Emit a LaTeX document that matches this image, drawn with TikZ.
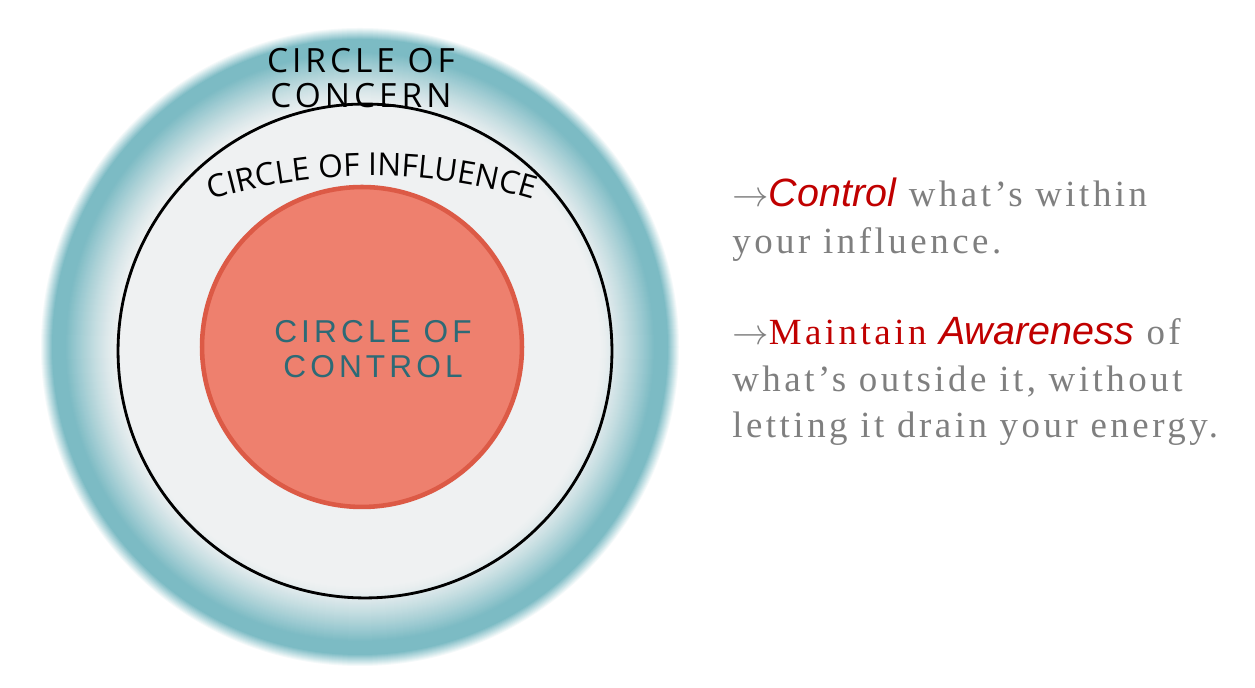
\documentclass[tikz,border=0pt]{standalone}
\usepackage{fontspec}
\setmainfont{Liberation Serif}
\newfontfamily\notefont[LetterSpace=9.5]{Liberation Serif}
\newfontfamily\keyfont[Scale=1.07]{Liberation Sans}
\newfontfamily\concernfont[LetterSpace=12]{Open Sans}
\newfontfamily\influencefont{Open Sans}
\newfontfamily\controlfont[LetterSpace=13]{Liberation Sans}
\usetikzlibrary{decorations.text,calc}

\definecolor{concernteal}{HTML}{7CBBC4}
\definecolor{concerngray}{HTML}{EFF1F2}
\definecolor{controlfill}{HTML}{EE806E}
\definecolor{controledge}{HTML}{DC5A46}
\definecolor{controltext}{HTML}{2D6A76}
\definecolor{notegray}{HTML}{7F7F7F}
\definecolor{notered}{HTML}{C00000}

\begin{document}
\begin{tikzpicture}
    [x=0.02cm,y=0.02cm,
     ring/.style={shape=circle,inner sep=0pt},
     note/.style={anchor=north west,align=left,inner sep=0pt,text=notegray,
       font=\notefont\fontsize{21}{26.6}\selectfont},
     hot/.style={text=notered}]
    \useasboundingbox (0,0) rectangle (1255,688);
    % circle of concern: soft teal rim fading into light grey
    \coordinate (concern) at (360,341);
    \foreach \r in {320,319,...,308} {
      \pgfmathsetmacro\mix{(320-\r)/12*100}
      \fill [concernteal!\mix!white] (concern) circle (\r);
    }
    \fill [concernteal] (concern) circle (307);
    \foreach \r in {295,294,...,240} {
      \pgfmathsetmacro\mix{((\r-240)/55)^1.3*100}
      \fill [concernteal!\mix!concerngray] (concern) circle (\r);
    }
    % inner circles
    \node [ring,draw=black,line width=1.6pt,minimum size=9.88cm] (influence) at (365,337) {};
    \node [ring,fill=controlfill,draw=controledge,line width=2.6pt,minimum size=6.4cm] (control) at (362,341) {};
    % circle labels
    \node [align=center,font=\concernfont\fontsize{19}{20}\selectfont] (concernlabel)
      at (361,610) {CIRCLE OF\\CONCERN};
    \node [align=center,text=controltext,font=\controlfont\fontsize{18}{20}\selectfont] (controllabel)
      at (373,339) {CIRCLE OF\\CONTROL};
    \coordinate (arccentre) at (372,-48);
    \coordinate (arcstart) at ($(arccentre)+(112:560)$);
    \path [decorate,decoration={text along path,text align=center,
        text={|\influencefont\fontsize{18}{20}\selectfont|CIRCLE OF INFLUENCE}}]
      (arcstart) arc [start angle=112,end angle=68,radius=560];
    % notes on the right
    \node [note] (controlnote) at (732,510)
      {\(\rightarrow\){\keyfont\itshape\color{notered}Control} what’s within\\your influence.};
    \node [note] (awarenote) at (732,371)
      {\(\rightarrow\){\color{notered}Maintain} {\keyfont\itshape\color{notered}Awareness} of\\what’s outside it, without\\letting it drain your energy.};
\end{tikzpicture}
\end{document}
